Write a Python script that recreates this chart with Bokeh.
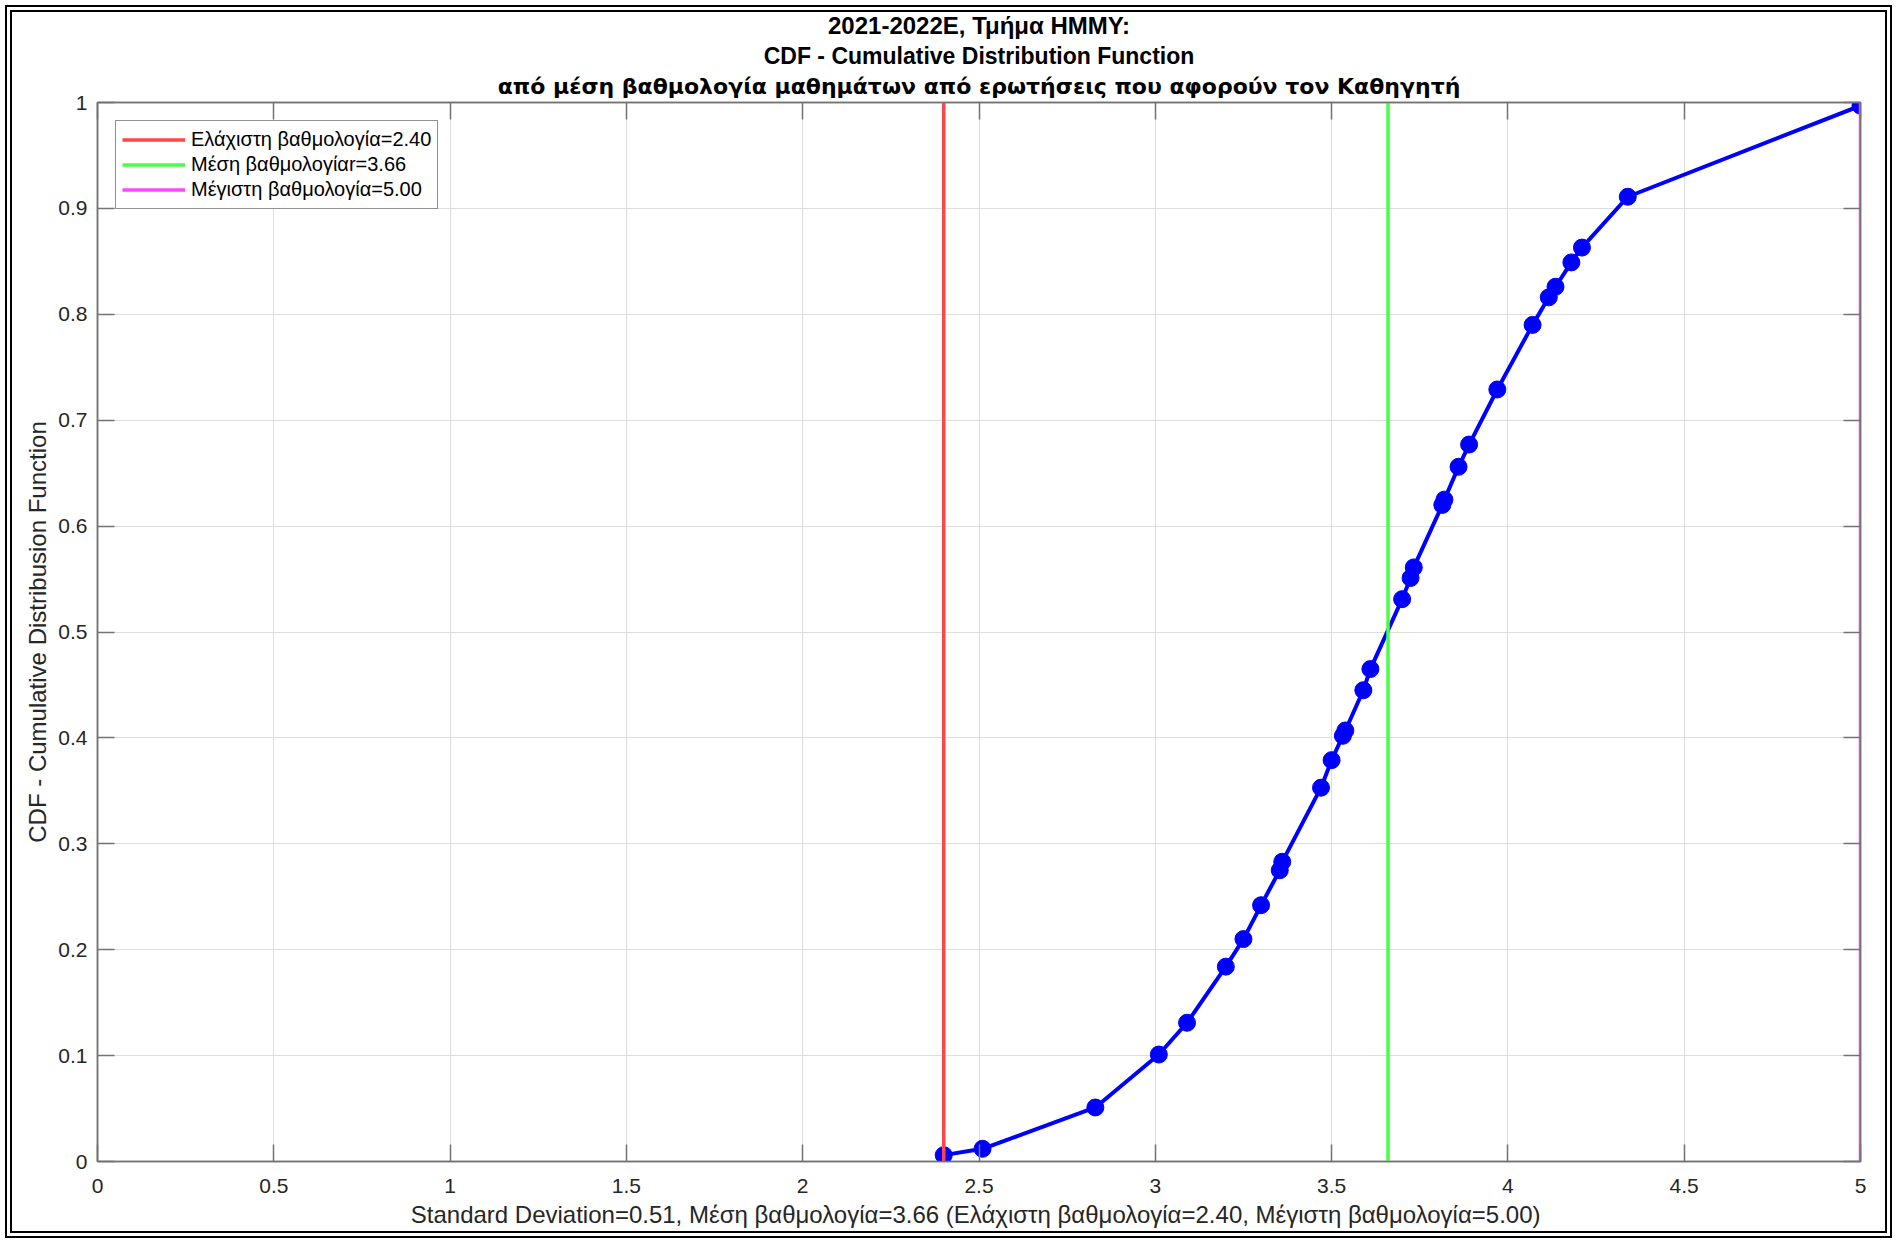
from bokeh.plotting import figure
from bokeh.models import (Range1d, FixedTicker, LinearAxis, Title, Legend)
from bokeh.embed import file_html
from bokeh.resources import INLINE

# ---------------- data ----------------
cdf_x = [2.40, 2.51, 2.83, 3.01, 3.09, 3.20, 3.25, 3.30, 3.353, 3.36, 3.47, 3.50,
         3.532, 3.539, 3.59, 3.61, 3.70, 3.724, 3.733, 3.814, 3.82, 3.86, 3.89,
         3.97, 4.07, 4.116, 4.135, 4.18, 4.21, 4.34, 5.00]
cdf_y = [0.006, 0.012, 0.051, 0.101, 0.131, 0.184, 0.210, 0.242, 0.275, 0.283,
         0.353, 0.379, 0.402, 0.407, 0.445, 0.465, 0.531, 0.551, 0.561, 0.620,
         0.625, 0.656, 0.677, 0.729, 0.790, 0.816, 0.826, 0.849, 0.863, 0.911,
         0.997]

min_score = 2.40
mean_score = 3.66
max_score = 5.00
std_score = 0.51

x_ticks = [0, 0.5, 1, 1.5, 2, 2.5, 3, 3.5, 4, 4.5, 5]
x_tick_labels = ["0", "0.5", "1", "1.5", "2", "2.5", "3", "3.5", "4", "4.5", "5"]
y_ticks = [0, 0.1, 0.2, 0.3, 0.4, 0.5, 0.6, 0.7, 0.8, 0.9, 1]
y_tick_labels = ["0", "0.1", "0.2", "0.3", "0.4", "0.5", "0.6", "0.7", "0.8", "0.9", "1"]

title_lines = ["2021-2022E, Τμήμα HMMY:",
               "CDF - Cumulative Distribution Function",
               "από μέση βαθμολογία μαθημάτων από ερωτήσεις που αφορούν τον Καθηγητή"]
x_label = ("Standard Deviation=%.2f, Μέση βαθμολογία=%.2f  (Ελάχιστη βαθμολογία=%.2f, "
           "Μέγιστη βαθμολογία=%.2f)" % (std_score, mean_score, min_score, max_score))
y_label = "CDF - Cumulative Distribusion Function"
legend_labels = ["Ελάχιστη βαθμολογία=%.2f" % min_score,
                 "Μέση βαθμολογίαr=%.2f" % mean_score,
                 "Μέγιστη βαθμολογία=%.2f" % max_score]

# ---------------- figure ----------------
FONT = "Liberation Sans"
AX_COL = "#737373"
TXT_COL = "#262626"

p = figure(width=1897, height=1243, output_backend="svg", toolbar_location=None,
           x_range=Range1d(0, 5), y_range=Range1d(0, 1), title_location=None,
           min_border_left=97, min_border_right=37, min_border_top=102,
           min_border_bottom=82)
p.background_fill_color = "white"
p.border_fill_color = None
p.outline_line_color = AX_COL
p.outline_line_width = 1.5
p.styles = {"outline": "7px double #000000", "outline-offset": "-12px",
            "background-color": "white"}

xt = dict(zip(x_ticks, x_tick_labels))
yt = dict(zip(y_ticks, y_tick_labels))

for ax in p.xaxis:
    ax.ticker = FixedTicker(ticks=x_ticks)
    ax.major_label_overrides = xt
for ax in p.yaxis:
    ax.ticker = FixedTicker(ticks=y_ticks)
    ax.major_label_overrides = yt

for ax in list(p.xaxis) + list(p.yaxis):
    ax.axis_line_color = AX_COL
    ax.axis_line_width = 1.5
    ax.major_tick_line_color = AX_COL
    ax.major_tick_line_width = 1.5
    ax.major_tick_in = 17
    ax.major_tick_out = 0
    ax.minor_tick_line_color = None
    ax.major_label_text_font = FONT
    ax.major_label_text_font_size = "21px"
    ax.major_label_text_color = TXT_COL
    ax.axis_label_text_font = FONT
    ax.axis_label_text_font_size = "24px"
    ax.axis_label_text_font_style = "normal"
    ax.axis_label_text_color = TXT_COL

p.xaxis.axis_label = x_label
p.yaxis.axis_label = y_label
p.xaxis.major_label_standoff = 17
p.xaxis.axis_label_standoff = 5
p.yaxis.major_label_standoff = 10
p.yaxis.axis_label_standoff = 4

# mirrored ticks on top and right (no labels)
def mirror_axis(ticks):
    return LinearAxis(ticker=FixedTicker(ticks=ticks), major_label_text_font_size="1px",
                      major_label_text_color=None,
                      axis_line_color=AX_COL, axis_line_width=1.5,
                      major_tick_line_color=AX_COL, major_tick_line_width=1.5,
                      major_tick_in=17, major_tick_out=0, minor_tick_line_color=None,
                      major_label_standoff=0)

p.add_layout(mirror_axis(x_ticks), "above")
p.add_layout(mirror_axis(y_ticks), "right")

title_specs = [  # (font, size, standoff) for lines 1..3
    ("Liberation Sans", "24px", 7),
    ("Liberation Sans", "23px", -3),
    ("DejaVu Sans", "22px", 8),
]
for line, (fnt, fsz, so) in reversed(list(zip(title_lines, title_specs))):
    p.add_layout(Title(text=line, align="center", text_font=fnt, text_font_size=fsz,
                       text_font_style="bold", text_color="black", standoff=so), "above")

p.xgrid.grid_line_color = "#dedede"
p.ygrid.grid_line_color = "#dedede"
p.xgrid.grid_line_width = 1
p.ygrid.grid_line_width = 1

# ---------------- glyphs ----------------
p.line(cdf_x, cdf_y, line_color="#0000ff", line_width=4)
p.scatter(cdf_x, cdf_y, size=17, marker="circle", fill_color="#0000ff",
          line_color="#0000ff")

vcolors = ["#ff4646", "#46ff46", "#ff46ff"]
r_items = []
for val, col in zip([min_score, mean_score, max_score], vcolors):
    r = p.line([val, val], [0, 1], line_color=col, line_width=3.5)
    r_items.append(r)

legend = Legend(items=[(lab, [r]) for lab, r in zip(legend_labels, r_items)],
                location="top_left")
legend.margin = 18
legend.padding = 6
legend.spacing = 0
legend.glyph_width = 63
legend.glyph_height = 25
legend.label_height = 25
legend.label_standoff = 6
legend.label_text_font = FONT
legend.label_text_font_size = "20px"
legend.label_text_color = "black"
legend.border_line_color = "#262626"
legend.border_line_width = 1
legend.background_fill_color = "white"
legend.background_fill_alpha = 1
p.add_layout(legend, "center")

open("out.html", "w").write(file_html(p, INLINE))
